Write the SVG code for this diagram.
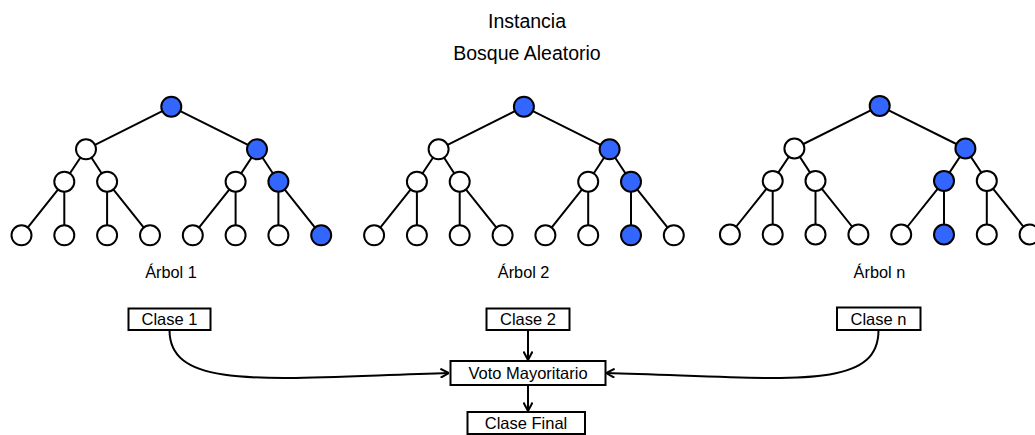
<svg xmlns="http://www.w3.org/2000/svg" width="1035" height="435" viewBox="0 0 1035 435">
<style>
text{font-family:"Liberation Sans",Arial,sans-serif;fill:#000}
.t{font-size:19.5px;text-anchor:middle}
.l{font-size:16.3px;text-anchor:middle}
.b{font-size:16.5px;text-anchor:middle}
.e{stroke:#000;stroke-width:2;fill:none}
.n{fill:#fff;stroke:#000;stroke-width:2}
.h{fill:#3366ff;stroke:#000;stroke-width:2}
.box{fill:#fff;stroke:#000;stroke-width:2}
.c{stroke:#000;stroke-width:2;fill:none}
</style>
<defs>
<marker id="ar" viewBox="0 0 10 10" refX="9.5" refY="5" markerWidth="10" markerHeight="10" markerUnits="userSpaceOnUse" orient="auto">
<path d="M1,0.5 L9.5,5 L1,9.5" fill="none" stroke="#000" stroke-width="2"/>
</marker>
<g id="treeEdges">
<path class="e" d="M171.3,106.7 L86,149.3 M171.3,106.7 L257,149.3 M86,149.3 L64.3,181.7 M86,149.3 L107.1,181.7 M257,149.3 L235.6,181.7 M257,149.3 L278.4,181.7 M64.3,181.7 L21.5,235.3 M64.3,181.7 L64.3,235.3 M107.1,181.7 L107.1,235.3 M107.1,181.7 L150,235.3 M235.6,181.7 L192.8,235.3 M235.6,181.7 L235.6,235.3 M278.4,181.7 L278.4,235.3 M278.4,181.7 L321.2,235.3"/>
</g>
</defs>
<text class="t" x="527" y="28">Instancia</text>
<text class="t" x="527" y="60">Bosque Aleatorio</text>
<g id="tree1">
<use href="#treeEdges"/>
<circle class="h" cx="171.3" cy="106.7" r="10"/>
<circle class="n" cx="86" cy="149.3" r="10"/>
<circle class="h" cx="257" cy="149.3" r="10"/>
<circle class="n" cx="64.3" cy="181.7" r="10"/>
<circle class="n" cx="107.1" cy="181.7" r="10"/>
<circle class="n" cx="235.6" cy="181.7" r="10"/>
<circle class="h" cx="278.4" cy="181.7" r="10"/>
<circle class="n" cx="21.5" cy="235.3" r="10"/>
<circle class="n" cx="64.3" cy="235.3" r="10"/>
<circle class="n" cx="107.1" cy="235.3" r="10"/>
<circle class="n" cx="150" cy="235.3" r="10"/>
<circle class="n" cx="192.8" cy="235.3" r="10"/>
<circle class="n" cx="235.6" cy="235.3" r="10"/>
<circle class="n" cx="278.4" cy="235.3" r="10"/>
<circle class="h" cx="321.2" cy="235.3" r="10"/>
<text class="l" x="171" y="278">Árbol 1</text>
</g>
<g id="tree2" transform="translate(352.6,0)">
<use href="#treeEdges"/>
<circle class="h" cx="171.3" cy="106.7" r="10"/>
<circle class="n" cx="86" cy="149.3" r="10"/>
<circle class="h" cx="257" cy="149.3" r="10"/>
<circle class="n" cx="64.3" cy="181.7" r="10"/>
<circle class="n" cx="107.1" cy="181.7" r="10"/>
<circle class="n" cx="235.6" cy="181.7" r="10"/>
<circle class="h" cx="278.4" cy="181.7" r="10"/>
<circle class="n" cx="21.5" cy="235.3" r="10"/>
<circle class="n" cx="64.3" cy="235.3" r="10"/>
<circle class="n" cx="107.1" cy="235.3" r="10"/>
<circle class="n" cx="150" cy="235.3" r="10"/>
<circle class="n" cx="192.8" cy="235.3" r="10"/>
<circle class="n" cx="235.6" cy="235.3" r="10"/>
<circle class="h" cx="278.4" cy="235.3" r="10"/>
<circle class="n" cx="321.2" cy="235.3" r="10"/>
<text class="l" x="171" y="278">Árbol 2</text>
</g>
<g id="tree3" transform="translate(708.4,-0.8)">
<use href="#treeEdges"/>
<circle class="h" cx="171.3" cy="106.7" r="10"/>
<circle class="n" cx="86" cy="149.3" r="10"/>
<circle class="h" cx="257" cy="149.3" r="10"/>
<circle class="n" cx="64.3" cy="181.7" r="10"/>
<circle class="n" cx="107.1" cy="181.7" r="10"/>
<circle class="h" cx="235.6" cy="181.7" r="10"/>
<circle class="n" cx="278.4" cy="181.7" r="10"/>
<circle class="n" cx="21.5" cy="235.3" r="10"/>
<circle class="n" cx="64.3" cy="235.3" r="10"/>
<circle class="n" cx="107.1" cy="235.3" r="10"/>
<circle class="n" cx="150" cy="235.3" r="10"/>
<circle class="n" cx="192.8" cy="235.3" r="10"/>
<circle class="h" cx="235.6" cy="235.3" r="10"/>
<circle class="n" cx="278.4" cy="235.3" r="10"/>
<circle class="n" cx="321.2" cy="235.3" r="10"/>
<text class="l" x="171" y="278.8">Árbol n</text>
</g>
<g id="connectors">
<path class="c" d="M169.5,330 C169.5,392 270,378 449,373" marker-end="url(#ar)"/>
<path class="c" d="M878.5,330 C878.5,392 790,378 606,373" marker-end="url(#ar)"/>
<path class="c" d="M528,330 L528,360" marker-end="url(#ar)"/>
<path class="c" d="M528,385 L528,411" marker-end="url(#ar)"/>
</g>
<g id="clase1">
<rect class="box" x="128.5" y="308.5" width="82" height="21.5"/>
<text class="b" x="169.5" y="325">Clase 1</text>
</g>
<g id="clase2">
<rect class="box" x="486.5" y="308.5" width="83" height="21.5"/>
<text class="b" x="528" y="325">Clase 2</text>
</g>
<g id="clasen">
<rect class="box" x="837" y="307.5" width="83.5" height="22.5"/>
<text class="b" x="878.5" y="324.5">Clase n</text>
</g>
<g id="voto">
<rect class="box" x="450.5" y="361" width="155" height="24"/>
<text class="b" x="528" y="379">Voto Mayoritario</text>
</g>
<g id="clasefinal">
<rect class="box" x="467.5" y="412" width="117.5" height="22"/>
<text class="b" x="526" y="429">Clase Final</text>
</g>
</svg>
